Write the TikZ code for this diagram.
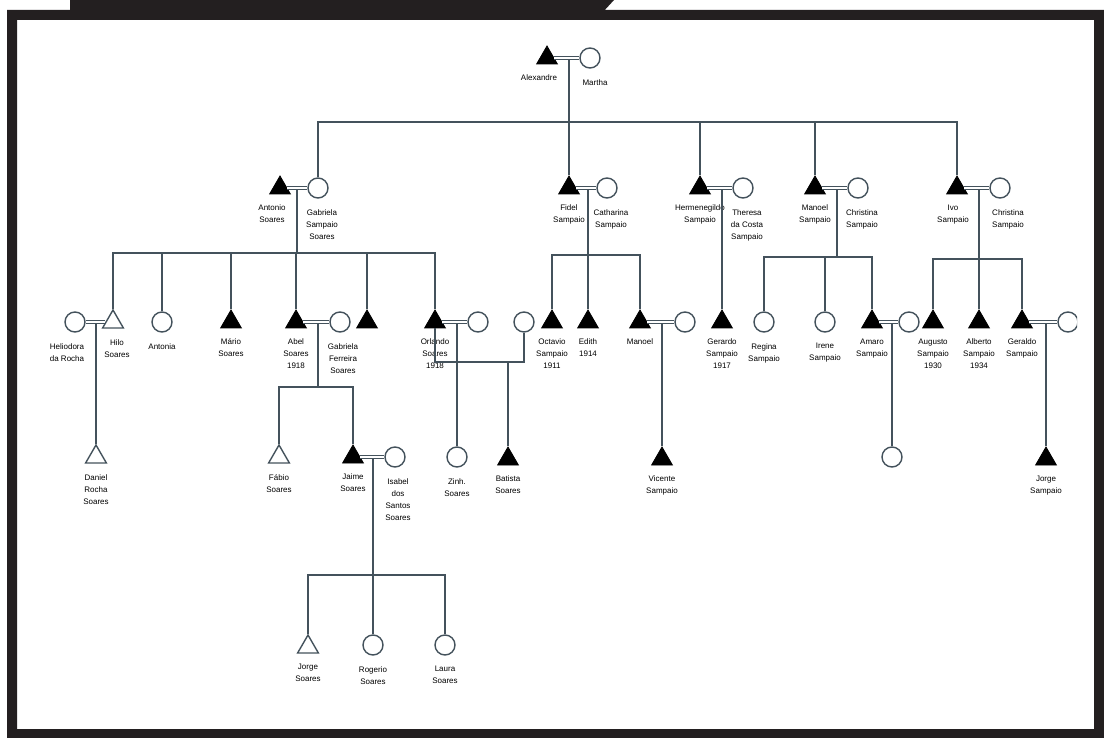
\documentclass[tikz,border=0pt]{standalone}
\usepackage{fontspec}
\setmainfont{Liberation Sans}
\usetikzlibrary{shapes.geometric}
\definecolor{lineCol}{HTML}{44525C}
\definecolor{frameCol}{HTML}{231F20}

\begin{document}
\begin{tikzpicture}[x=1pt,y=-1pt,label distance=6pt,
male/.style={regular polygon,regular polygon sides=3,minimum size=24pt,inner sep=0,
    fill=black,draw=black,line width=0.8pt},
maleOpen/.style={regular polygon,regular polygon sides=3,minimum size=24pt,inner sep=0,
    fill=white,draw=lineCol,line width=1.4pt},
female/.style={circle,minimum size=20pt,inner sep=0,fill=white,draw=lineCol,line width=1.4pt},
lbl/.style={font=\fontsize{8}{12}\selectfont,align=center,inner sep=0.5pt,yshift=-4pt},
kin/.style={draw=lineCol,line width=1.6pt},
marr/.style={draw=lineCol,line width=1.2pt,double=white,double distance=2.4pt}
]
\useasboundingbox (0,0) rectangle (1104,738);
\fill[white] (0,0) rectangle (1104,738);
% frame and tab
\fill[frameCol,even odd rule] (7,10) rectangle (1104,738) (17,20) rectangle (1094,729);
\fill[frameCol] (70,0) -- (614,0) -- (603,12) -- (70,12) -- cycle;

\begin{scope}
\clip (17,20) rectangle (1077,729);
% generation 1
\node[male,label={[lbl,xshift=-8pt]below:Alexandre}] (alex) at (547,58) {};
\node[female,label={[lbl,xshift=5pt]below:Martha}] (marta) at (590,58) {};

% generation 2
\node[male,label={[lbl,xshift=-8pt]below:Antonio\\Soares}] (ant) at (280,188) {};
\node[female,label={[lbl,xshift=4pt]below:Gabriela\\Sampaio\\Soares}] (gab) at (318,188) {};
\node[male,label={[lbl]below:Fidel\\Sampaio}] (fid) at (569,188) {};
\node[female,label={[lbl,xshift=4pt]below:Catharina\\Sampaio}] (cat) at (607,188) {};
\node[male,label={[lbl]below:Hermenegildo\\Sampaio}] (her) at (700,188) {};
\node[female,label={[lbl,xshift=4pt]below:Theresa\\da Costa\\Sampaio}] (the) at (743,188) {};
\node[male,label={[lbl]below:Manoel\\Sampaio}] (man) at (815,188) {};
\node[female,label={[lbl,xshift=4pt]below:Christina\\Sampaio}] (chr) at (858,188) {};
\node[male,label={[lbl,xshift=-4pt]below:Ivo\\Sampaio}] (ivo) at (957,188) {};
\node[female,label={[lbl,xshift=8pt]below:Christina\\Sampaio}] (car) at (1000,188) {};

% generation 3
\node[female,label={[lbl,xshift=-8pt]below:Heliodora\\da Rocha}] (hel) at (75,322) {};
\node[maleOpen,label={[lbl,xshift=4pt]below:Hilo\\Soares}] (hil) at (113,322) {};
\node[female,label={[lbl]below:Antonia}] (ana) at (162,322) {};
\node[male,label={[lbl]below:Mário\\Soares}] (mar) at (231,322) {};
\node[male,label={[lbl]below:Abel\\Soares\\1918}] (abe) at (296,322) {};
\node[female,label={[lbl,xshift=3pt]below:Gabriela\\Ferreira\\Soares}] (gaf) at (340,322) {};
\node[male] (anon) at (367,322) {};
\node[male,label={[lbl]below:Orlando\\Soares\\1918}] (orl) at (435,322) {};
\node[female] (wifeA) at (478,322) {};
\node[female] (wifeB) at (524,322) {};
\node[male,label={[lbl]below:Octavio\\Sampaio\\1911}] (oct) at (552,322) {};
\node[male,label={[lbl]below:Edith\\1914}] (edi) at (588,322) {};
\node[male,label={[lbl]below:Manoel}] (mnl) at (640,322) {};
\node[female] (wifeC) at (685,322) {};
\node[male,label={[lbl]below:Gerardo\\Sampaio\\1917}] (ger) at (722,322) {};
\node[female,label={[lbl]below:Regina\\Sampaio}] (reg) at (764,322) {};
\node[female,label={[lbl]below:Irene\\Sampaio}] (ire) at (825,322) {};
\node[male,label={[lbl]below:Amaro\\Sampaio}] (ama) at (872,322) {};
\node[female] (wifeD) at (909,322) {};
\node[male,label={[lbl]below:Augusto\\Sampaio\\1930}] (aug) at (933,322) {};
\node[male,label={[lbl]below:Alberto\\Sampaio\\1934}] (alb) at (979,322) {};
\node[male,label={[lbl]below:Geraldo\\Sampaio}] (gel) at (1022,322) {};
\node[female] (wifeE) at (1068,322) {};

% generation 4
\node[maleOpen,label={[lbl]below:Daniel\\Rocha\\Soares}] (dan) at (96,457) {};
\node[maleOpen,label={[lbl]below:Fábio\\Soares}] (fab) at (279,457) {};
\node[male,label={[lbl]below:Jaime\\Soares}] (jai) at (353,457) {};
\node[female,label={[lbl,xshift=3pt]below:Isabel\\dos\\Santos\\Soares}] (isa) at (395,457) {};
\node[female,label={[lbl]below:Zinh.\\Soares}] (zin) at (457,457) {};
\node[male,label={[lbl]below:Batista\\Soares}] (bat) at (508,459) {};
\node[male,label={[lbl]below:Vicente\\Sampaio}] (vic) at (662,459) {};
\node[female] (dau) at (892,457) {};
\node[male,label={[lbl]below:Jorge\\Sampaio}] (jor) at (1046,459) {};

% generation 5
\node[maleOpen,label={[lbl]below:Jorge\\Soares}] (jrs) at (308,647) {};
\node[female,label={[lbl]below:Rogerio\\Soares}] (rog) at (373,645) {};
\node[female,label={[lbl]below:Laura\\Soares}] (lau) at (445,645) {};

% marriage points and sibling bars
\coordinate (m0) at (569,60);  \coordinate (b0) at (569,122);
\coordinate (m1) at (297,190); \coordinate (b1) at (297,253);
\coordinate (m2) at (588,190); \coordinate (b2) at (588,255);
\coordinate (m3) at (722,190);
\coordinate (m4) at (837,190); \coordinate (b4) at (837,257);
\coordinate (m5) at (979,190); \coordinate (b5) at (979,259);
\coordinate (m6) at (96,324);
\coordinate (m7) at (318,324); \coordinate (b7) at (318,387);
\coordinate (m8) at (457,324); \coordinate (b8) at (480,362);
\coordinate (m9) at (662,324);
\coordinate (m10) at (892,324);
\coordinate (m11) at (1046,324);
\coordinate (m12) at (373,459); \coordinate (b12) at (373,575);

\draw[marr] (alex) -- (marta) (ant) -- (gab) (fid) -- (cat) (her) -- (the) (man) -- (chr)
    (ivo) -- (car) (hel) -- (hil) (abe) -- (gaf) (orl) -- (wifeA) (mnl) -- (wifeC)
    (ama) -- (wifeD) (gel) -- (wifeE) (jai) -- (isa);

\draw[kin] (m0) -- (fid.north) (gab.north) |- (b0) -| (ivo.north)
    (her.north) -- (her.north |- b0) (man.north) -- (man.north |- b0);
\draw[kin] (m1) -- (b1) (hil.north) |- (b1) -| (orl.north)
    (ana.north) -- (ana.north |- b1) (mar.north) -- (mar.north |- b1)
    (abe.north) -- (abe.north |- b1) (anon.north) -- (anon.north |- b1);
\draw[kin] (m2) -- (edi.north) (oct.north) |- (b2) -| (mnl.north);
\draw[kin] (m3) -- (ger.north);
\draw[kin] (m4) -- (b4) (reg.north) |- (b4) -| (ama.north) (ire.north) -- (ire.north |- b4);
\draw[kin] (m5) -- (alb.north) (aug.north) |- (b5) -| (gel.north);
\draw[kin] (m6) -- (dan.north);
\draw[kin] (m7) -- (b7) (fab.north) |- (b7) -| (jai.north);
\draw[kin] (m8) -- (zin.north) (orl.south) |- (b8) -| (wifeB.south)
    (bat.north) -- (bat.north |- b8);
\draw[kin] (m9) -- (vic.north);
\draw[kin] (m10) -- (dau.north);
\draw[kin] (m11) -- (jor.north);
\draw[kin] (m12) -- (rog.north) (jrs.north) |- (b12) -| (lau.north);
\end{scope}
\end{tikzpicture}
\end{document}
